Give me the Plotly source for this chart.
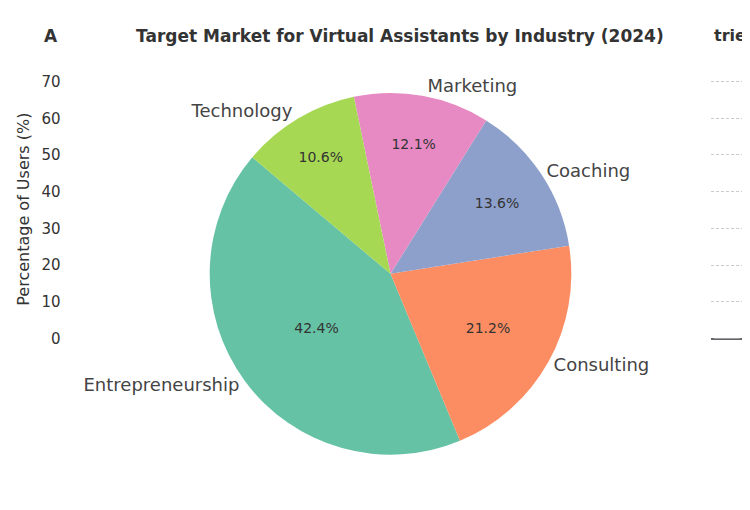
import plotly.graph_objects as go

industries = ["Entrepreneurship", "Consulting", "Coaching", "Marketing", "Technology"]
users = [28, 14, 9, 8, 7]
colors = ["#66c2a5", "#fc8d62", "#8da0cb", "#e78ac3", "#a6d854"]
yticks = [0, 10, 20, 30, 40, 50, 60, 70]

fig = go.Figure()
fig.add_trace(go.Bar(x=[industries[0]], y=[0], marker_color="rgba(0,0,0,0)", showlegend=False, hoverinfo="skip"))
pie_dom = dict(x=[0.259, 0.761], y=[0.11, 0.842])
fig.add_trace(go.Pie(labels=industries, values=users, sort=False, direction="counterclockwise",
                     rotation=157.4, marker=dict(colors=colors), textinfo="percent",
                     texttemplate="%{percent:.1%}", textposition="inside", insidetextorientation="horizontal",
                     textfont=dict(size=14, color="#333333"), showlegend=False, domain=pie_dom))
fig.add_trace(go.Pie(labels=industries, values=users, sort=False, direction="counterclockwise",
                     rotation=157.4, marker=dict(colors=["rgba(0,0,0,0)"] * 5), textinfo="label",
                     textposition="outside", textfont=dict(size=18, color="#444444"),
                     showlegend=False, domain=pie_dom, hoverinfo="skip"))

fig.update_layout(
    width=750, height=510, margin=dict(l=0, r=0, t=0, b=0),
    paper_bgcolor="white", plot_bgcolor="white",
    font=dict(family="DejaVu Sans", color="#333333"),
    xaxis=dict(domain=[0.937, 0.98], showticklabels=False, showgrid=False, zeroline=False),
    yaxis=dict(domain=[0.345, 0.869], range=[0, 70.5], tickvals=yticks, showticklabels=False,
               showgrid=True, gridcolor="#cccccc", griddash="3px,2px", gridwidth=1, zeroline=True,
               zerolinecolor="#666666", zerolinewidth=2),
    yaxis2=dict(domain=[0.345, 0.869], range=[0, 70.5], tickvals=yticks, overlaying="y",
                anchor="free", position=0.07, side="left", showgrid=False, zeroline=False,
                tickfont=dict(size=15, color="#333333"),
                title=dict(text="Percentage of Users (%)", font=dict(size=16, color="#333333"), standoff=6)),
    annotations=[
        dict(text="<b>A</b>", x=0.045, y=1, yanchor="top", yshift=-9, xref="paper", yref="paper",
             showarrow=False, font=dict(size=17, color="#333333"), xanchor="left"),
        dict(text="<b>tries</b>", x=0.998, y=1, yanchor="top", yshift=-9, xref="paper", yref="paper",
             showarrow=False, font=dict(size=16, color="#333333"), xanchor="right"),
        dict(text="<b>Target Market for Virtual Assistants by Industry (2024)</b>", x=0.522, y=1,
             yanchor="top", yshift=-9, xref="paper", yref="paper", showarrow=False, bgcolor="white",
             font=dict(size=17, color="#333333")),
    ],
)
fig.add_trace(go.Scatter(x=[industries[0]], y=[None], yaxis="y2", showlegend=False, hoverinfo="skip"))
fig.write_html("out.html")
